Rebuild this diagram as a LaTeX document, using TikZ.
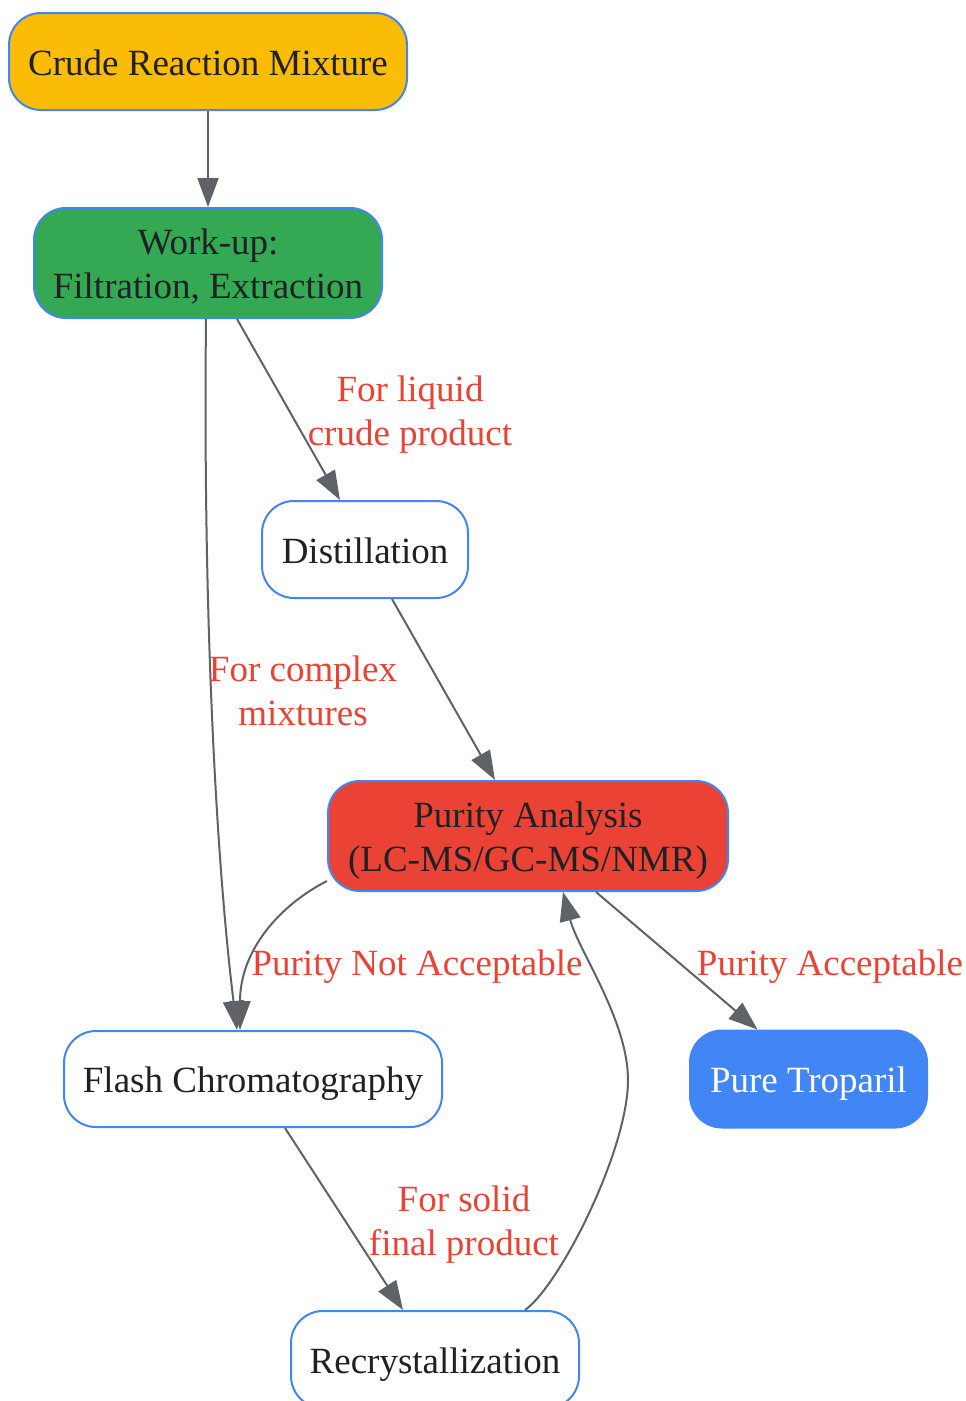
\documentclass[tikz,border=0pt]{standalone}
\usepackage{fontspec}
\setmainfont{Liberation Serif}
\usetikzlibrary{arrows.meta}
\definecolor{nodeborder}{HTML}{4285F4}
\definecolor{txt}{HTML}{202124}
\definecolor{lbl}{HTML}{EA4335}
\definecolor{edgec}{HTML}{5F6368}
\definecolor{cyellow}{HTML}{FBBC05}
\definecolor{cgreen}{HTML}{34A853}
\definecolor{cred}{HTML}{EA4335}
\definecolor{cblue}{HTML}{4285F4}
\begin{document}
\begin{tikzpicture}[x=1pt,y=-1pt,
  box/.style={draw=nodeborder,line width=2pt,rounded corners=32pt,align=center,
    text=txt,font=\fontsize{37}{44}\selectfont,inner sep=0pt,text height=33pt,text depth=6pt},
  box2/.style={box,text height=77pt},
  lab/.style={text=lbl,align=center,font=\fontsize{37}{44}\selectfont,inner sep=0pt},
  conn/.style={draw=edgec,line width=2pt,-{Triangle[length=29pt,width=21pt]}}]
\useasboundingbox (0,0) rectangle (966,1401);
\fill[white] (0,0) rectangle (966,1401);
\node[box,fill=cyellow,minimum width=398pt,minimum height=97pt] (crude) at (208,61.5) {Crude Reaction Mixture};
\node[box2,fill=cgreen,minimum width=348pt,minimum height=110pt] (wu) at (208,263) {Work-up:\\Filtration, Extraction};
\node[box,fill=white,minimum width=206pt,minimum height=97pt] (dist) at (365,549.5) {Distillation};
\node[box2,fill=cred,minimum width=400pt,minimum height=110pt] (pur) at (528,836) {Purity Analysis\\(LC-MS/GC-MS/NMR)};
\node[box,fill=white,minimum width=378pt,minimum height=96pt] (flash) at (253,1079) {Flash Chromatography};
\node[box,fill=cblue,draw=cblue,text=white,minimum width=237pt,minimum height=97pt] (pure) at (808.5,1079) {Pure Troparil};
\node[box,fill=white,minimum width=288pt,minimum height=97pt] (rec) at (435,1359.5) {Recrystallization};

\draw[conn] (crude.south) -- (wu.north);
\draw[conn] ([xshift=29pt]wu.south) -- ([xshift=-25pt]dist.north);
\node[lab] (l1) at (410,415) {For liquid\\crude product};
\draw[conn] ([xshift=-2pt]wu.south) .. controls (203,600) and (215,850) .. ([xshift=-16pt]flash.north);
\node[lab] (l2) at (303,691) {For complex\\mixtures};
\draw[conn] ([xshift=27pt]dist.south) -- ([xshift=-33pt]pur.north);
\draw[conn] ([yshift=-45pt]pur.west) .. controls (280,905) and (240,950) .. ([xshift=-13pt]flash.north);
\node[lab] (l3) at (417,967) {Purity Not Acceptable};
\draw[conn] ([xshift=68pt]pur.south) -- ([xshift=-51pt]pure.north);
\node[lab] (l4) at (830,967) {Purity Acceptable};
\draw[conn] ([xshift=32pt]flash.south) -- ([xshift=-32pt]rec.north);
\node[lab] (l5) at (464,1225) {For solid\\final product};
\draw[conn] ([xshift=90pt]rec.north) .. controls (560,1285) and (628,1150) .. (628,1080)
  .. controls (628,1020) and (578,950) .. ([xshift=35pt]pur.south);
\end{tikzpicture}
\end{document}
